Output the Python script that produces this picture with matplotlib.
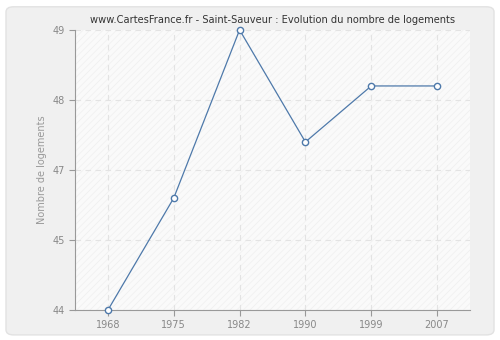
import matplotlib.pyplot as plt
from matplotlib.patches import FancyBboxPatch, Rectangle

years = ['1968', '1975', '1982', '1990', '1999', '2007']
logements = [44, 46, 49, 47, 48, 48]
tick_pos = [44, 45.25, 46.5, 47.75, 49]
tick_lab = ['44', '45', '47', '48', '49']

plt.rcParams['hatch.linewidth'] = 0.5
fig = plt.figure(figsize=(5, 3.4), dpi=100)
fig.patch.set_facecolor('white')
fig.patches.append(FancyBboxPatch((0.012, 0.015), 0.976, 0.965, boxstyle='round,pad=0,rounding_size=0.015',
                                  transform=fig.transFigure, facecolor='#f0f0f0', edgecolor='#e2e2e2',
                                  linewidth=1, zorder=-10))

ax = fig.add_axes([0.15, 0.088, 0.79, 0.824])
ax.set_facecolor('#fafafa')
ax.add_patch(Rectangle((0, 0), 1, 1, transform=ax.transAxes, facecolor='none',
                       edgecolor='#efefef', hatch='/////', linewidth=0, zorder=0))

x = list(range(len(years)))
ax.plot(x, logements, color='#4e79aa', linewidth=0.9, marker='o', markersize=4.5,
        markerfacecolor='white', markeredgecolor='#4e79aa', markeredgewidth=1, zorder=3, clip_on=False)

ax.set_xlim(-0.5, 5.5)
ax.set_ylim(44, 49)
ax.set_xticks(x)
ax.set_xticklabels(years)
ax.set_yticks(tick_pos)
ax.set_yticklabels(tick_lab)
ax.grid(True, color='#e3e3e3', linestyle=(0, (5, 4)), linewidth=0.8)
ax.set_axisbelow(True)
for s in ['top', 'right']:
    ax.spines[s].set_visible(False)
for s in ['left', 'bottom']:
    ax.spines[s].set_color('#999999')
ax.tick_params(colors='#999999', labelcolor='#888888', labelsize=7, length=4, width=0.8)
ax.set_ylabel('Nombre de logements', fontsize=7, color='#999999')
ax.set_title('www.CartesFrance.fr - Saint-Sauveur : Evolution du nombre de logements',
             fontsize=7.1, color='#333333', pad=5)

fig.savefig('out.png', dpi=100, facecolor=fig.get_facecolor())
